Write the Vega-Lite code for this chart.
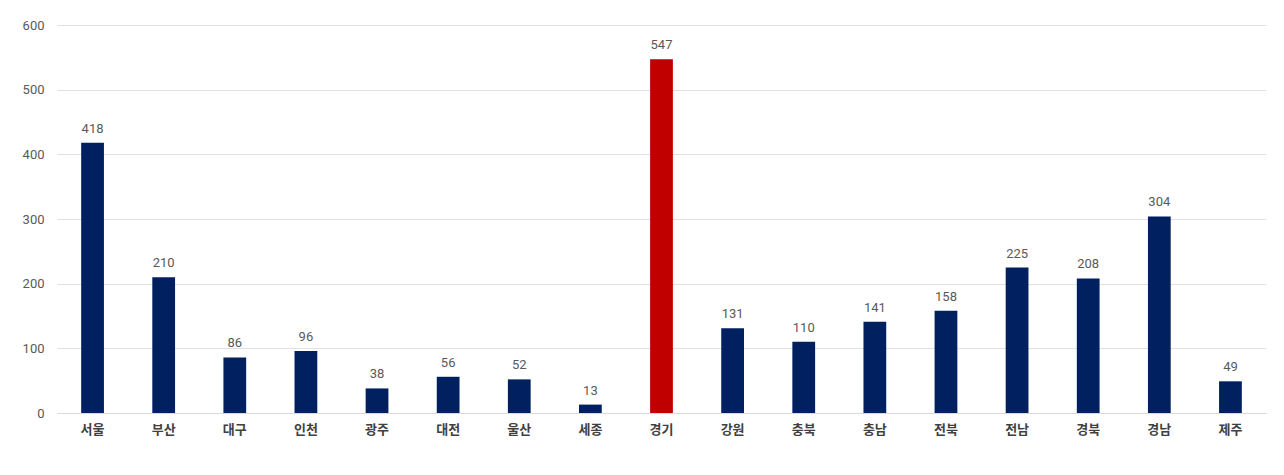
{
  "$schema": "https://vega.github.io/schema/vega-lite/v6.json",
  "autosize": {"type": "none"},
  "width": 1209,
  "height": 388,
  "padding": {"left": 57, "top": 25, "right": 18, "bottom": 62},
  "background": "white",
  "config": {
    "view": {"stroke": null},
    "font": "Noto Sans CJK KR"
  },
  "data": {
    "values": [
      {"region": "서울", "count": 418},
      {"region": "부산", "count": 210},
      {"region": "대구", "count": 86},
      {"region": "인천", "count": 96},
      {"region": "광주", "count": 38},
      {"region": "대전", "count": 56},
      {"region": "울산", "count": 52},
      {"region": "세종", "count": 13},
      {"region": "경기", "count": 547},
      {"region": "강원", "count": 131},
      {"region": "충북", "count": 110},
      {"region": "충남", "count": 141},
      {"region": "전북", "count": 158},
      {"region": "전남", "count": 225},
      {"region": "경북", "count": 208},
      {"region": "경남", "count": 304},
      {"region": "제주", "count": 49}
    ]
  },
  "encoding": {
    "x": {
      "field": "region",
      "type": "nominal",
      "sort": null,
      "scale": {"paddingInner": 0.68, "paddingOuter": 0.34},
      "axis": {
        "title": null,
        "labelAngle": 0,
        "ticks": false,
        "domainColor": "#d9d9d9",
        "labelFontSize": 13,
        "labelFontWeight": "bold",
        "labelColor": "#404040",
        "labelPadding": 10
      }
    },
    "y": {
      "field": "count",
      "type": "quantitative",
      "scale": {"domain": [0, 600]},
      "axis": {
        "title": null,
        "values": [0, 100, 200, 300, 400, 500, 600],
        "domain": false,
        "ticks": false,
        "gridColor": "#e0e0e0",
        "gridWidth": 1.2,
        "labelFontSize": 13,
        "labelColor": "#595959",
        "labelPadding": 13,
        "labelFont": "Roboto"
      }
    }
  },
  "layer": [
    {
      "mark": {"type": "bar"},
      "encoding": {
        "color": {
          "condition": {"test": "datum.region === '경기'", "value": "#C00000"},
          "value": "#002060"
        }
      }
    },
    {
      "mark": {"type": "text", "baseline": "bottom", "dy": -7, "fontSize": 13, "color": "#595959", "font": "Roboto"},
      "encoding": {
        "text": {"field": "count", "type": "quantitative"}
      }
    }
  ]
}
